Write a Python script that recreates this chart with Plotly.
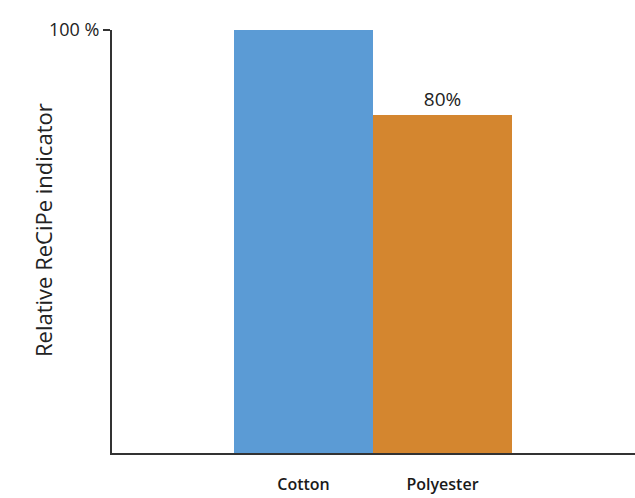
import plotly.graph_objects as go

categories = ["Cotton", "Polyester"]
values = [100, 80]
bar_colors = ["#5B9BD5", "#D4862F"]
value_labels = ["", "80%"]
y_tick_vals = [100]
y_tick_text = ["100 %"]
y_title = "Relative ReCiPe indicator"

fig = go.Figure(
    go.Bar(
        x=categories,
        y=values,
        marker=dict(color=bar_colors, line=dict(width=0)),
        text=value_labels,
        textposition="outside",
        textfont=dict(family="Open Sans", size=19, color="#222"),
        cliponaxis=False,
        width=1.0,
    )
)

fig.update_layout(
    width=635,
    height=498,
    margin=dict(l=112, r=0, t=30, b=45),
    paper_bgcolor="white",
    plot_bgcolor="white",
    showlegend=False,
    bargap=0,
    font=dict(family="Open Sans", color="#222"),
)

fig.update_xaxes(
    type="category",
    range=[-1.378, 2.385],
    showline=True,
    linecolor="#333",
    linewidth=2,
    showgrid=False,
    ticks="",
    tickfont=dict(size=16, color="#1a1a1a", weight=600),
    ticklabelstandoff=16,
)

fig.update_yaxes(
    range=[0, 100],
    showline=True,
    linecolor="#333",
    linewidth=2,
    showgrid=False,
    zeroline=False,
    ticks="outside",
    ticklen=7,
    tickwidth=2,
    tickcolor="#333",
    tickvals=y_tick_vals,
    ticktext=y_tick_text,
    tickfont=dict(size=18, color="#222"),
)

# Vertical axis title placed beside the y axis
fig.add_annotation(
    text=y_title,
    textangle=-90,
    xref="paper",
    yref="paper",
    x=(43 - 112) / 523,
    y=(453 - 230) / 423,
    xanchor="center",
    yanchor="middle",
    showarrow=False,
    font=dict(family="Open Sans", size=22, color="#222"),
)

fig.write_html("out.html")
